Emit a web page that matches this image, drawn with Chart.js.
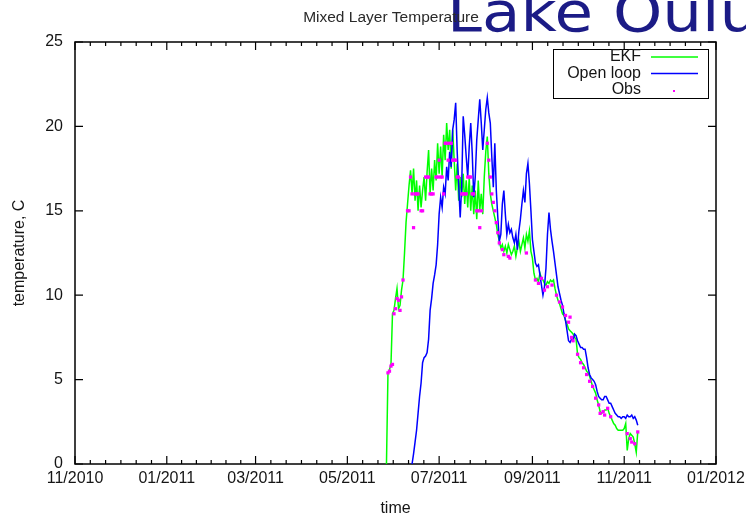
<!DOCTYPE html>
<html>
<head>
<meta charset="utf-8">
<title>Mixed Layer Temperature</title>
<script src="https://cdn.jsdelivr.net/npm/chart.js@4.4.1/dist/chart.umd.min.js"></script>
<style>
    html, body { margin: 0; padding: 0; background: #fff; }
    #wrap { width: 746px; height: 515px; }
</style>
</head>
<body>
<div id="wrap"><canvas id="temp-chart" width="746" height="515"></canvas></div>
<script>
// x values are days counted from 1 Nov 2010
const monthTickDays = [0, 61, 120, 181, 242, 304, 365, 426];
const monthTickLabels = ['11/2010', '01/2011', '03/2011', '05/2011', '07/2011', '09/2011', '11/2011', '01/2012'];
const tempTicks = [0, 5, 10, 15, 20, 25];

// EKF run, one value per day
const ekfStartDay = 207;
const ekfTemps = [0,
    5.4, 5.6, 5.9, 8.9, 9.1, 9.8, 10.4, 9.2, 9.4, 10.3,
    10.9, 12.5, 14.3, 15.4, 16.5, 17.4, 16.0, 17.5, 15.6, 16.8,
    15.0, 16.5, 15.2, 16.2, 17.0, 15.6, 17.3, 18.6, 16.0, 17.5,
    16.2, 18.0, 16.8, 19.0, 17.2, 18.8, 17.0, 19.5, 18.0, 20.2,
    18.6, 19.8, 17.5, 19.8, 18.0, 16.2, 17.8, 15.6, 17.0, 15.8,
    17.2, 15.4, 16.8, 15.2, 17.0, 15.0, 16.5, 14.8, 16.2, 14.5,
    16.8, 15.0, 16.0, 14.8, 17.0, 18.5, 19.4, 17.2, 16.0, 15.4,
    15.0, 14.6, 14.2, 13.6, 13.2, 12.8, 13.0, 12.6, 12.9, 12.5,
    13.0, 12.7, 12.4, 12.6, 12.9, 12.3, 12.8, 13.2, 12.6, 13.0,
    13.4, 12.8, 13.6, 13.2, 13.8, 12.6, 12.2, 11.3, 10.9, 11.0,
    10.8, 11.3, 11.0, 10.9, 10.7, 10.6, 10.8, 10.7, 10.9, 10.8,
    10.9, 10.4, 10.0, 9.7, 9.5, 9.2, 8.9, 8.8, 8.5, 8.3,
    8.0, 7.9, 7.8, 7.7, 7.5, 7.4, 6.5, 6.3, 6.2, 6.0,
    5.9, 5.7, 5.5, 5.4, 5.2, 4.9, 4.6, 4.4, 4.2, 3.8,
    3.5, 3.1, 3.0, 3.1, 3.2, 3.2, 3.3, 3.0, 2.8, 2.6,
    2.4, 2.3, 2.1, 2.0, 2.0, 2.0, 2.0, 2.1, 2.4, 0.8,
    1.5, 1.8, 1.7, 1.6, 1.2, 0.7, 1.9
];

// open loop run, one value per day
const openLoopStartDay = 224;
const openLoopTemps = [
    0, 0.6, 1.3, 2.0, 3.0, 4.0, 4.8, 6.0, 6.3, 6.4,
    6.6, 7.4, 9.1, 9.8, 10.7, 11.2, 11.8, 13.0, 14.8, 15.8,
    15.2, 16.4, 16.0, 17.6, 16.8, 18.5, 17.6, 19.8, 20.4, 21.4,
    18.5, 16.5, 14.6, 16.5, 20.6, 19.5, 18.2, 17.0, 18.8, 20.2,
    18.4, 15.8, 17.0, 19.2, 20.4, 21.6, 20.2, 18.6, 19.8, 21.0,
    21.7, 20.8, 20.2, 18.2, 16.4, 19.0, 16.2, 14.6, 13.2, 13.6,
    15.4, 16.2, 14.8, 13.6, 14.2, 13.7, 13.9, 13.4, 13.1, 13.6,
    12.7, 13.8, 14.5, 15.4, 16.2, 15.5, 17.2, 17.8, 16.6, 15.0,
    13.3, 12.6, 11.9, 11.7, 11.8, 11.2, 10.6, 10.0, 10.5, 11.6,
    13.6, 14.9, 13.9, 13.2, 12.6, 11.9, 11.2, 10.5, 10.1, 9.7,
    9.4, 8.9, 8.5, 7.9, 7.3, 7.2, 7.4, 7.3, 7.7, 7.6,
    7.3, 7.1, 6.9, 6.9, 6.8, 6.8, 6.3, 5.7, 5.3, 5.1,
    5.0, 4.9, 4.7, 4.3, 4.0, 3.9, 3.8, 3.8, 4.0, 4.0,
    3.8, 3.6, 3.6, 3.4, 3.2, 3.0, 2.9, 2.8, 2.8, 2.7,
    2.8, 2.8, 2.7, 2.9, 2.8, 2.8, 2.9, 2.7, 2.8, 2.6,
    2.3
];

// observations
const obsDays = [
    208, 209, 210, 211, 212, 213, 214, 215, 216, 217, 218,
    221, 222, 223, 224, 225, 226, 227, 228, 230, 231,
    233, 234, 235, 236, 237, 238, 240, 241, 242, 243, 244, 245,
    246, 247, 248, 249, 250, 251, 252, 253, 254, 255,
    257, 258, 259, 260, 261, 262, 263, 264, 265,
    267, 268, 269, 270, 274, 275, 276, 277, 278, 279,
    280, 281, 282, 284, 285, 288, 289, 300,
    306, 308, 310, 312, 314, 317, 320, 322, 324, 326, 328, 329, 330, 331,
    334, 336, 338, 340, 342, 344, 346, 348, 349, 351, 352, 354, 356,
    367, 369, 370, 372, 374
];
const obsTemps = [
    5.4, 5.5, 5.8, 5.9, 8.9, 9.2, 9.8, 9.7, 9.1, 9.9, 10.9,
    15, 15, 17, 16, 14, 16, 16, 16, 15, 15,
    17, 17, 17, 16, 16, 16, 17, 17, 18, 17, 17, 16,
    19, 19, 18, 19, 19, 18, 18, 18, 17, 17,
    16, 16, 16, 16, 17, 17, 17, 16, 16,
    15, 15, 14, 15, 19, 18, 17, 16, 15.5, 15,
    14.3, 13.7, 13.1, 12.7, 12.4, 12.3, 12.2, 12.5,
    10.9, 10.7, 11.0, 10.3, 10.5, 10.6, 10.0, 9.6, 9.3, 8.8, 8.4, 8.7, 7.5, 7.3,
    6.5, 6.0, 5.7, 5.3, 4.9, 4.6, 3.9, 3.5, 3.0, 3.1, 2.9, 3.3, 2.8,
    1.8, 1.5, 1.3, 1.2, 1.9
];

const keyOrder = ['EKF', 'Open loop', 'Obs'];

const textFont = "'Liberation Sans', Arial, sans-serif";
const textSize = 16;
const textColor = '#151515';

function dailyPoints(startDay, temps) {
    return temps.map((t, i) => ({ x: startDay + i, y: t }));
}

// gnuplot style frame: box with inward ticks on all four sides
const frameTicks = {
    id: 'frameTicks',
    beforeDatasetsDraw(chart) {
        const { ctx, chartArea: a, scales: { x, y } } = chart;
        ctx.save();
        ctx.strokeStyle = '#000';
        ctx.lineWidth = 1.2;
        ctx.beginPath();
        for (let i = 0; i < monthTickDays.length; i++) {
            const px = x.getPixelForValue(monthTickDays[i]);
            ctx.moveTo(px, a.bottom); ctx.lineTo(px, a.bottom - 8);
            ctx.moveTo(px, a.top); ctx.lineTo(px, a.top + 8);
            if (i === monthTickDays.length - 1) break;
            const step = (monthTickDays[i + 1] - monthTickDays[i]) / 6;
            for (let k = 1; k < 6; k++) {
                const mx = x.getPixelForValue(monthTickDays[i] + k * step);
                ctx.moveTo(mx, a.bottom); ctx.lineTo(mx, a.bottom - 4);
                ctx.moveTo(mx, a.top); ctx.lineTo(mx, a.top + 4);
            }
        }
        tempTicks.forEach(v => {
            const py = y.getPixelForValue(v);
            ctx.moveTo(a.left, py); ctx.lineTo(a.left + 8, py);
            ctx.moveTo(a.right, py); ctx.lineTo(a.right - 8, py);
        });
        ctx.stroke();
        ctx.lineWidth = 1.5;
        ctx.strokeRect(a.left, a.top, a.right - a.left, a.bottom - a.top);
        ctx.restore();
    }
};

// key box in the top right corner: label, then line sample
const keyBox = {
    id: 'keyBox',
    afterDatasetsDraw(chart) {
        const { ctx, chartArea: a } = chart;
        const right = a.right - 8, top = a.top + 7, w = 155, h = 49;
        ctx.save();
        ctx.strokeStyle = '#000';
        ctx.lineWidth = 1;
        ctx.strokeRect(right - w + 0.5, top + 0.5, w, h);
        ctx.font = textSize + 'px ' + textFont;
        ctx.textAlign = 'right';
        ctx.textBaseline = 'middle';
        keyOrder.forEach((name, i) => {
            const ds = chart.data.datasets.find(d => d.label === name);
            const yy = top + 8 + i * 16.5;
            ctx.fillStyle = textColor;
            ctx.fillText(name, right - 67, yy);
            if (ds.showLine === false) {
                ctx.fillStyle = ds.pointBackgroundColor;
                ctx.fillRect(right - 35, yy, 2, 2);
            } else {
                ctx.strokeStyle = ds.borderColor;
                ctx.lineWidth = 1.5;
                ctx.beginPath();
                ctx.moveTo(right - 57, yy);
                ctx.lineTo(right - 10, yy);
                ctx.stroke();
            }
        });
        ctx.restore();
    }
};

// slide heading behind the plot and the plot title above the frame
const headings = {
    id: 'headings',
    beforeDraw(chart) {
        const { ctx } = chart;
        ctx.save();
        ctx.fillStyle = '#1b1b86';
        ctx.font = '56px "DejaVu Sans", sans-serif';
        ctx.textBaseline = 'alphabetic';
        ctx.textAlign = 'left';
        ctx.translate(447, 31);
        ctx.scale(1.12, 1);
        ctx.fillText('Lake Oulu', 0, 0);
        ctx.restore();
    },
    afterDraw(chart) {
        const { ctx } = chart;
        ctx.save();
        ctx.fillStyle = '#2a2a2a';
        ctx.font = '15.5px ' + textFont;
        ctx.textAlign = 'center';
        ctx.textBaseline = 'middle';
        ctx.fillText('Mixed Layer Temperature', 391, 18);
        ctx.restore();
    }
};

const ctx = document.getElementById('temp-chart').getContext('2d');
new Chart(ctx, {
    type: 'line',
    data: {
        datasets: [
            {
                label: 'Obs',
                data: obsDays.map((d, i) => ({ x: d, y: obsTemps[i] })),
                showLine: false,
                pointStyle: 'rect',
                pointRadius: 2.3,
                pointBorderWidth: 0,
                pointBackgroundColor: '#ff00ff',
                borderColor: '#ff00ff',
                order: 0
            },
            {
                label: 'Open loop',
                data: dailyPoints(openLoopStartDay, openLoopTemps),
                borderColor: '#0000ff',
                borderWidth: 1.5,
                pointRadius: 0,
                tension: 0,
                order: 1
            },
            {
                label: 'EKF',
                data: dailyPoints(ekfStartDay, ekfTemps),
                borderColor: '#00ff00',
                borderWidth: 1.5,
                pointRadius: 0,
                tension: 0,
                order: 2
            }
        ]
    },
    options: {
        responsive: false,
        animation: false,
        devicePixelRatio: 1,
        events: [],
        layout: { padding: { top: 42, right: 30, left: 0, bottom: 0 } },
        plugins: {
            legend: { display: false },
            tooltip: { enabled: false }
        },
        scales: {
            x: {
                type: 'linear',
                min: 0,
                max: 426,
                afterBuildTicks: scale => { scale.ticks = monthTickDays.map(v => ({ value: v })); },
                afterFit: scale => {
                    scale.height = 51;
                    // edge labels fit inside the fixed margins
                    scale.paddingLeft = 0;
                    scale.paddingRight = 0;
                },
                grid: { display: false, drawTicks: false },
                border: { display: false },
                ticks: {
                    autoSkip: false,
                    maxRotation: 0,
                    padding: 5,
                    color: textColor,
                    font: { family: textFont, size: textSize },
                    callback: (value, index) => monthTickLabels[index]
                },
                title: {
                    display: true,
                    text: 'time',
                    color: textColor,
                    font: { family: textFont, size: textSize, lineHeight: 1 },
                    padding: { top: 0, bottom: -2 }
                }
            },
            y: {
                type: 'linear',
                min: 0,
                max: 25,
                afterBuildTicks: scale => { scale.ticks = tempTicks.map(v => ({ value: v })); },
                afterFit: scale => {
                    scale.width = 75;
                    scale.paddingTop = 0;
                    scale.paddingBottom = 0;
                },
                grid: { display: false, drawTicks: false },
                border: { display: false },
                ticks: {
                    padding: 12,
                    color: textColor,
                    font: { family: textFont, size: textSize }
                },
                title: {
                    display: true,
                    text: 'temperature, C',
                    color: textColor,
                    font: { family: textFont, size: textSize, lineHeight: 1 },
                    padding: { top: 12, bottom: 0 }
                }
            }
        }
    },
    plugins: [headings, frameTicks, keyBox]
});
</script>
</body>
</html>
